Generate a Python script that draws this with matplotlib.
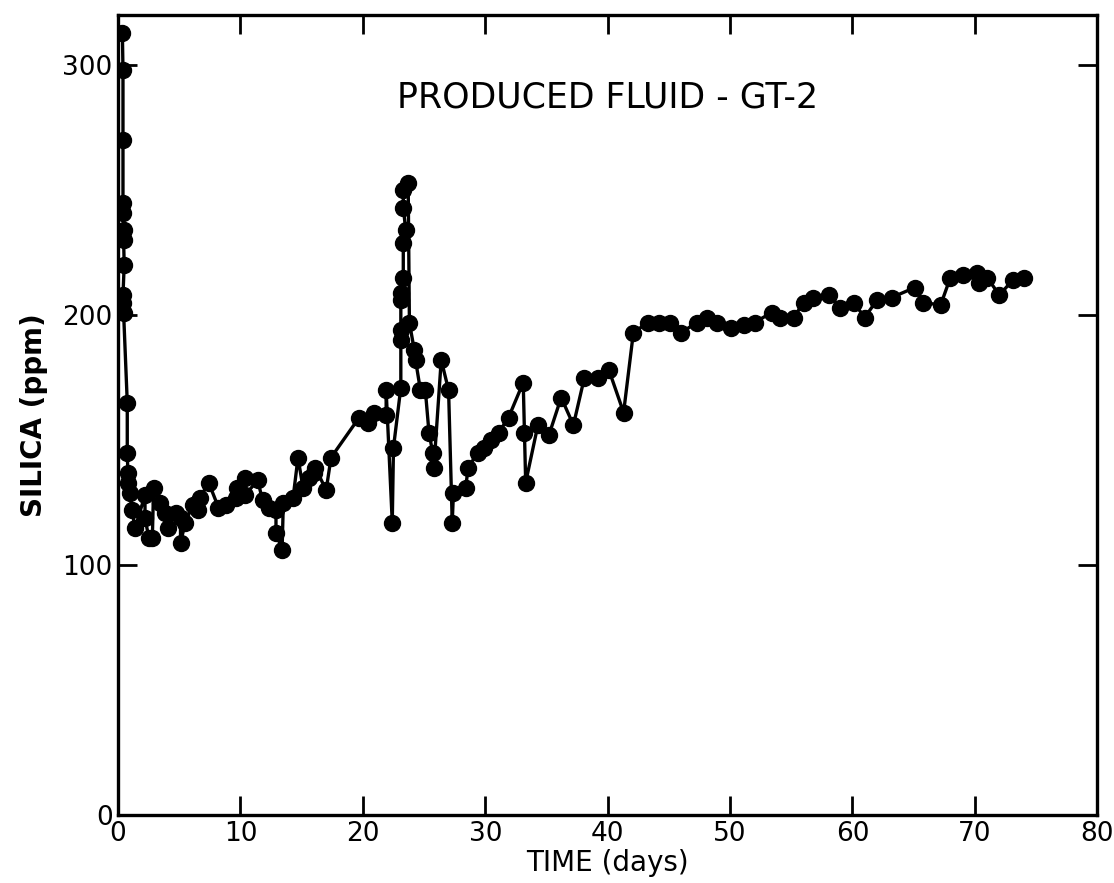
"""Silica in produced fluid, GT-2, versus time."""

import matplotlib
matplotlib.use("Agg")
import matplotlib.pyplot as plt

# values (days, ppm)
DAYS = [
    0.35, 0.4, 0.4, 0.4, 0.4, 0.45, 0.45, 0.5, 0.4, 0.4, 0.45,
    0.75, 0.75, 0.8, 0.8, 1.0, 1.1, 1.4,
    2.2, 2.2, 2.5, 2.8, 2.9, 3.4, 3.85, 4.1, 4.7, 5.1, 5.1, 5.5,
    6.1, 6.5, 6.7, 7.4, 8.2, 8.8, 9.6, 9.7, 10.4, 10.4, 11.4, 11.8,
    12.3, 12.9, 12.9, 13.4, 13.5, 14.3, 14.7, 15.1, 15.6, 16.0, 16.1,
    17.0, 17.4, 19.7, 20.4, 20.9, 21.9, 21.9, 22.4, 22.5,
    23.1, 23.1, 23.1, 23.1, 23.1, 23.3, 23.3, 23.5, 23.3, 23.3, 23.7,
    23.8, 24.2, 24.3, 24.7, 25.1, 25.4, 25.7, 25.8, 26.4, 27.0, 27.3,
    27.4, 28.4, 28.6, 29.4, 29.9, 30.5, 31.1, 31.9, 33.1, 33.2, 33.3,
    34.3, 35.2, 36.2, 37.2, 38.1, 39.2, 40.1, 41.3, 42.1,
    43.3, 44.2, 45.1, 46.0, 47.3, 48.1, 48.9, 50.1, 51.1, 52.0, 53.4,
    54.1, 55.2, 56.0, 56.8, 58.1, 59.0, 60.1, 61.0, 62.0, 63.2, 65.1,
    65.8, 67.2, 68.0, 69.0, 70.2, 70.3, 71.0, 72.0, 73.1, 74.0,
]
SILICA = [
    313, 298, 270, 245, 241, 234, 230, 220, 208, 205, 201,
    165, 145, 137, 133, 129, 122, 115,
    128, 119, 111, 111, 131, 125, 121, 115, 121, 119, 109, 117,
    124, 122, 127, 133, 123, 124, 127, 131, 135, 128, 134, 126,
    123, 122, 113, 106, 125, 127, 143, 131, 135, 137, 139,
    130, 143, 159, 157, 161, 160, 170, 117, 147,
    171, 190, 194, 206, 209, 215, 229, 234, 243, 250, 253,
    197, 186, 182, 170, 170, 153, 145, 139, 182, 170, 117,
    129, 131, 139, 145, 147, 150, 153, 159, 173, 153, 133,
    156, 152, 167, 156, 175, 175, 178, 161, 193,
    197, 197, 197, 193, 197, 199, 197, 195, 196, 197, 201,
    199, 199, 205, 207, 208, 203, 205, 199, 206, 207, 211,
    205, 204, 215, 216, 217, 213, 215, 208, 214, 215,
]

X_TICKS = [0, 10, 20, 30, 40, 50, 60, 70, 80]
Y_TICKS = [0, 100, 200, 300]

fig = plt.figure(figsize=(11.14, 8.83), dpi=100)
ax = fig.add_axes([0.106, 0.077, 0.879, 0.906])

ax.plot(DAYS, SILICA, color="black", linewidth=2.4, marker="o",
        markersize=11.5, markerfacecolor="black", markeredgecolor="black")

ax.set_xlim(0, 80)
ax.set_ylim(0, 320)
ax.set_xticks(X_TICKS)
ax.set_yticks(Y_TICKS)
ax.tick_params(direction="in", length=14, width=2.0, top=True, right=True,
               labelsize=19, pad=4)
for sp in ax.spines.values():
    sp.set_linewidth(2.4)

ax.set_xlabel("TIME (days)", fontsize=20, labelpad=2)
ax.set_ylabel("SILICA (ppm)", fontsize=20, fontweight="bold", labelpad=10)
ax.text(0.5, 0.897, "PRODUCED FLUID - GT-2", transform=ax.transAxes,
        ha="center", va="center", fontsize=25)

fig.savefig("out.png", dpi=100)
plt.close(fig)
